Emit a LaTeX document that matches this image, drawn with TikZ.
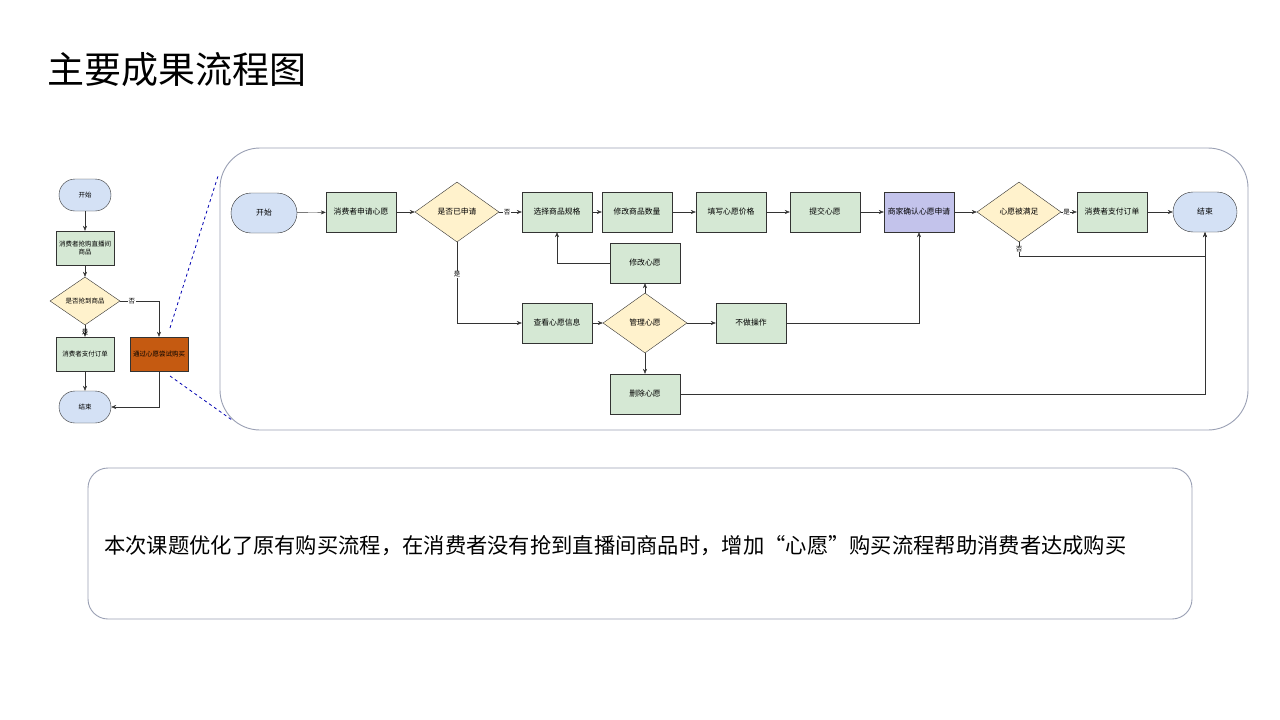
\documentclass[tikz,border=0pt]{standalone}
\usepackage{fontspec}
\setmainfont{Noto Sans CJK SC}
\usetikzlibrary{shapes.geometric,arrows.meta}
\definecolor{gfill}{HTML}{D5E8D4}
\definecolor{yfill}{HTML}{FFF2CC}
\definecolor{bfill}{HTML}{D4E1F5}
\definecolor{pfill}{HTML}{C3C3EB}
\definecolor{ofill}{HTML}{C55A11}
\definecolor{frame}{HTML}{9AA0B4}
\begin{document}
\begin{tikzpicture}[x=1pt,y=-1pt,
 every node/.style={font=\fontsize{7.8}{9}\selectfont,align=center,inner sep=1pt},
 box/.style={draw=black!80,fill=gfill,minimum width=70pt,minimum height=40pt},
 sbox/.style={draw=black!80,fill=gfill,minimum width=58pt,minimum height=34pt,font=\fontsize{6.5}{8}\selectfont},
 dia/.style={draw=black!80,fill=yfill,diamond,aspect=1.4,minimum width=84pt,minimum height=60pt,inner sep=0pt},
 sdia/.style={draw=black!80,fill=yfill,diamond,aspect=1.45,minimum width=70pt,minimum height=48pt,inner sep=0pt,font=\fontsize{6.5}{8}\selectfont},
 term/.style={draw=black!80,fill=bfill,rounded corners=20pt,minimum width=66pt,minimum height=40pt},
 sterm/.style={draw=black!80,fill=bfill,rounded corners=16pt,minimum width=52pt,minimum height=32pt,font=\fontsize{6.5}{8}\selectfont},
 ar/.style={draw=black!80,-{Stealth[length=5pt,width=4pt]}},
 lab/.style={font=\fontsize{6.5}{7}\selectfont,fill=white,inner sep=0.5pt}]
\useasboundingbox (0,0) rectangle (1280,720);
\fill[white] (0,0) rectangle (1280,720);
\node[anchor=west,font=\fontsize{37}{40}\selectfont,inner sep=0pt] (title) at (47,70) {主要成果流程图};
% left flow
\node[sterm] (ls) at (85,195) {开始};
\node[sbox] (l1) at (85,248) {消费者抢购直播间\\商品};
\node[sdia] (ld) at (85,301) {是否抢到商品};
\node[sbox] (l2) at (85,354) {消费者支付订单};
\node[sterm] (le) at (85,407) {结束};
\node[sbox,fill=ofill] (lo) at (159,354) {通过心愿尝试购买};
\draw[ar] (ls) -- (l1);
\draw[ar] (l1) -- (ld);
\draw[ar] (ld) -- node[lab,pos=0.6,fill=none] {是} (l2);
\draw[ar] (l2) -- (le);
\draw[ar] (ld.east) -- node[lab,pos=0.3] {否} (159,301) -- (lo.north);
\draw[ar] (lo.south) -- (159,407) -- (le.east);
% dashed zoom lines
\coordinate (z1) at (170,328); \coordinate (z2) at (218,176);
\coordinate (z3) at (170,376); \coordinate (z4) at (232,420);
\draw[blue!70!black,dashed,thick] (z1) -- (z2);
\draw[blue!70!black,dashed,thick] (z3) -- (z4);
% frame
\draw[frame,line width=0.9pt,rounded corners=40pt] (220,148) rectangle (1248,430);
% main flow
\node[term] (s) at (264,213) {开始};
\node[box] (a1) at (361,212) {消费者申请心愿};
\node[dia] (d1) at (457,212) {是否已申请};
\node[box] (a2) at (557,212) {选择商品规格};
\node[box] (a3) at (637,212) {修改商品数量};
\node[box] (a4) at (731,212) {填写心愿价格};
\node[box] (a5) at (825,212) {提交心愿};
\node[box,fill=pfill] (a6) at (919,212) {商家确认心愿申请};
\node[dia] (d2) at (1019,212) {心愿被满足};
\node[box] (a7) at (1112,212) {消费者支付订单};
\node[term,minimum width=64pt] (e) at (1205,212) {结束};
\node[box] (m1) at (645,263) {修改心愿};
\node[box] (b1) at (557,323) {查看心愿信息};
\node[dia] (d3) at (645,323) {管理心愿};
\node[box] (b2) at (751,323) {不做操作};
\node[box] (b3) at (645,394) {删除心愿};
\draw[ar] (s) -- (a1);
\draw[ar] (a1) -- (d1);
\draw[ar] (d1) -- node[lab,pos=0.35] {否} (a2);
\draw[ar] (a2) -- (a3);
\draw[ar] (a3) -- (a4);
\draw[ar] (a4) -- (a5);
\draw[ar] (a5) -- (a6);
\draw[ar] (a6) -- (d2);
\draw[ar] (d2) -- node[lab,pos=0.35] {是} (a7);
\draw[ar] (a7) -- (e);
\draw[ar] (d1.south) -- node[lab,pos=0.4] {是} (457,323) -- (b1.west);
\draw[ar] (b1) -- (d3);
\draw[ar] (d3) -- (m1);
\draw[ar] (d3) -- (b3);
\draw[ar] (d3) -- (b2);
\draw[ar] (m1.west) -- (557,263) -- (a2.south);
\draw[ar] (b2.east) -- (919,323) -- (a6.south);
\draw[ar] (d2.south) -- node[lab,pos=0.5] {否} (1019,256) -- (1205,256) -- (e.south);
\draw[ar] (b3.east) -- (1205,394) -- (e.south);
% bottom box
\draw[frame,line width=0.9pt,rounded corners=20pt] (88,468) rectangle (1192,619);
\node[anchor=west,font=\fontsize{21.3}{24}\selectfont,inner sep=0pt] (txt) at (104,546) {本次课题优化了原有购买流程，在消费者没有抢到直播间商品时，增加“心愿”购买流程帮助消费者达成购买};
\end{tikzpicture}
\end{document}
